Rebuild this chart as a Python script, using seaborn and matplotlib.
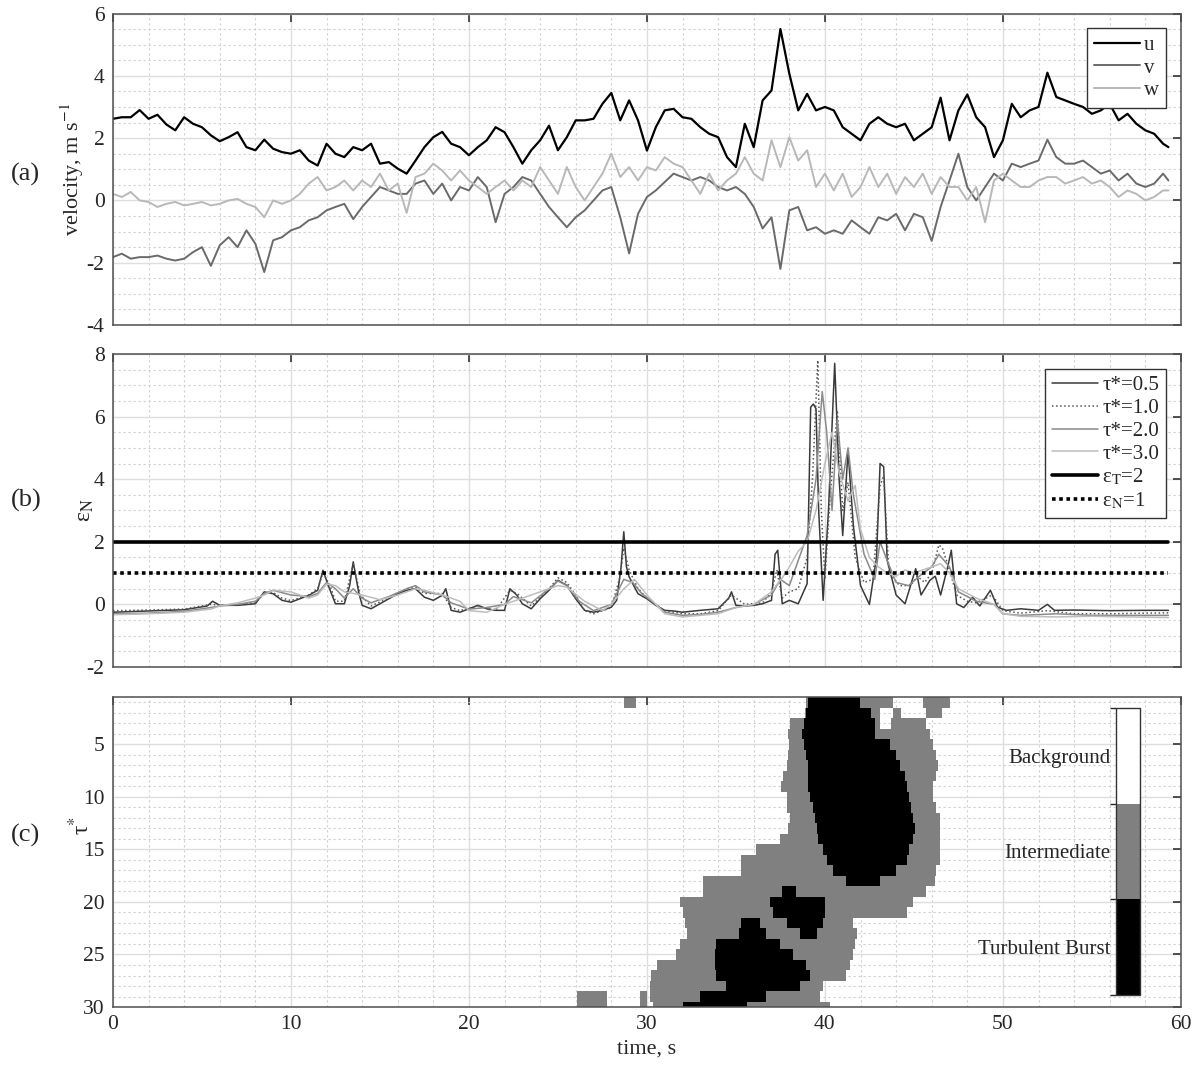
import numpy as np
import matplotlib
matplotlib.use("Agg")
import matplotlib.pyplot as plt
import seaborn as sns
from matplotlib.colors import ListedColormap, BoundaryNorm
from matplotlib.ticker import MultipleLocator

# ---------------- data: panel (a) velocity components ----------------
t_vel = np.append(np.arange(0, 59.01, 0.5), 59.3)
u_vel = [2.62, 2.67, 2.67, 2.90, 2.62, 2.75, 2.44, 2.25, 2.67, 2.46,
         2.35, 2.09, 1.90, 2.03, 2.19, 1.71, 1.61, 1.95, 1.66, 1.55,
         1.50, 1.61, 1.28, 1.12, 1.82, 1.50, 1.39, 1.71, 1.61, 1.82,
         1.18, 1.23, 1.02, 0.86, 1.28, 1.71, 2.03, 2.20, 1.82, 1.71,
         1.45, 1.71, 1.93, 2.35, 2.19, 1.71, 1.18, 1.61, 1.93, 2.40,
         1.61, 2.03, 2.57, 2.57, 2.62, 3.10, 3.45, 2.57, 3.21, 2.57,
         1.60, 2.35, 2.89, 2.94, 2.67, 2.62, 2.35, 2.14, 2.03, 1.39,
         1.07, 2.46, 1.71, 3.21, 3.53, 5.50, 4.07, 2.89, 3.42, 2.89,
         3.00, 2.89, 2.35, 2.14, 1.93, 2.46, 2.67, 2.46, 2.35, 2.46,
         1.93, 2.14, 2.35, 3.30, 1.93, 2.89, 3.40, 2.67, 2.35, 1.39,
         1.93, 3.10, 2.67, 2.89, 3.00, 4.10, 3.32, 3.21, 3.10, 3.00,
         2.78, 2.89, 3.10, 2.57, 2.78, 2.46, 2.25, 2.14, 1.82, 1.71]
v_vel = [-1.82, -1.71, -1.87, -1.82, -1.82, -1.77, -1.87, -1.93, -1.87, -1.66,
         -1.50, -2.10, -1.44, -1.18, -1.50, -0.96, -1.39, -2.30, -1.28, -1.18,
         -0.96, -0.86, -0.64, -0.54, -0.32, -0.21, -0.11, -0.60, -0.21, 0.11,
         0.43, 0.32, 0.21, 0.21, 0.54, 0.64, 0.21, 0.54, 0.00, 0.43,
         0.32, 0.75, 0.43, -0.70, 0.21, 0.43, 0.75, 0.64, 0.21, -0.21,
         -0.54, -0.86, -0.54, -0.32, 0.00, 0.32, 0.43, -0.54, -1.70, -0.43,
         0.11, 0.32, 0.59, 0.86, 0.75, 0.64, 0.75, 0.64, 0.43, 0.32,
         0.43, 0.21, -0.21, -0.90, -0.54, -2.20, -0.32, -0.21, -0.96, -0.86,
         -1.07, -0.96, -1.07, -0.64, -0.86, -1.07, -0.54, -0.64, -0.43, -0.96,
         -0.43, -0.54, -1.30, -0.21, 0.64, 1.50, 0.43, 0.00, 0.43, 0.86,
         0.64, 1.18, 1.07, 1.18, 1.28, 1.95, 1.39, 1.18, 1.18, 1.28,
         1.07, 0.86, 0.96, 0.64, 0.86, 0.54, 0.43, 0.54, 0.86, 0.64]
w_vel = [0.21, 0.11, 0.27, 0.00, -0.05, -0.21, -0.11, -0.05, -0.16, -0.11,
         -0.05, -0.16, -0.11, 0.00, 0.05, -0.11, -0.21, -0.54, 0.00, -0.11,
         0.00, 0.21, 0.54, 0.75, 0.32, 0.43, 0.64, 0.32, 0.64, 0.43,
         0.86, 0.32, 0.54, -0.40, 0.75, 0.86, 1.18, 0.96, 0.64, 0.96,
         0.64, 0.43, 0.21, 0.43, 0.64, 0.32, 0.64, 0.43, 1.07, 0.64,
         0.21, 1.07, 0.43, 0.00, 0.43, 0.86, 1.50, 0.75, 1.07, 0.64,
         1.07, 0.96, 1.39, 1.18, 1.07, 0.64, 0.21, 0.86, 0.32, 0.64,
         0.86, 1.39, 0.86, 0.64, 1.93, 1.07, 2.03, 1.28, 1.61, 0.43,
         0.86, 0.32, 0.86, 0.11, 0.43, 1.07, 0.43, 0.86, 0.21, 0.75,
         0.43, 0.86, 0.21, 0.75, 0.43, 0.43, 0.00, 0.43, -0.70, 0.64,
         0.86, 0.64, 0.43, 0.43, 0.64, 0.75, 0.75, 0.54, 0.64, 0.75,
         0.54, 0.64, 0.43, 0.11, 0.32, 0.21, 0.00, 0.11, 0.32, 0.32]

# ---------------- data: panel (b) normalised dissipation ----------------
eps05_t = [0, 2, 4, 5.3, 5.6, 6, 7, 8, 8.5, 9, 9.5, 10, 10.5, 11, 11.5, 11.8, 12.1, 12.5, 13,
           13.3, 13.5, 13.8, 14, 14.5, 15, 15.5, 16, 16.5, 17, 17.5, 18, 18.5, 18.7, 19, 19.5,
           20, 20.5, 21, 21.5, 22, 22.3, 22.7, 23, 23.5, 24, 24.5, 25, 25.5, 26, 26.5, 27, 27.5,
           28, 28.3, 28.55, 28.7, 28.85, 29, 29.5, 30, 30.5, 31, 31.5, 32, 33, 34, 34.6, 34.75,
           35, 35.5, 36, 36.5, 37, 37.2, 37.35, 37.6, 38, 38.5, 39, 39.2, 39.35, 39.5, 39.65,
           39.9, 40.2, 40.55, 40.8, 41.0, 41.3, 41.6, 42.0, 42.5, 42.9, 43.1, 43.3, 43.5, 44.0,
           44.5, 45.1, 45.4, 45.9, 46.2, 46.5, 46.9, 47.1, 47.4, 47.8, 48.3, 48.7, 49.3, 49.7,
           50.2, 51, 52, 52.5, 52.9, 54, 56, 58, 59.3]
eps05_v = [-0.25, -0.21, -0.17, -0.05, 0.10, -0.03, -0.03, 0.02, 0.40, 0.34, 0.13, 0.07, 0.18, 0.29,
           0.45, 1.09, 0.60, 0.02, 0.02, 0.60, 1.36, 0.40, -0.03, -0.14, 0.02, 0.18, 0.34, 0.45,
           0.50, 0.23, 0.13, 0.29, 0.50, -0.19, -0.25, -0.14, -0.03, -0.14, -0.19, -0.19, 0.50,
           0.29, 0.02, -0.14, 0.18, 0.45, 0.77, 0.61, 0.18, -0.19, -0.25, -0.19, -0.09, 0.13,
           1.20, 2.32, 1.20, 0.88, 0.34, 0.18, -0.03, -0.19, -0.21, -0.25, -0.19, -0.14, 0.20,
           0.40, -0.03, -0.05, -0.03, 0.02, 0.13, 1.60, 1.73, 0.02, 0.13, 0.02, 0.66, 6.30, 6.40,
           6.25, 3.00, 0.13, 3.00, 7.70, 4.00, 2.20, 4.90, 2.50, 0.60, 0.00, 1.50, 4.50, 4.40,
           1.40, 0.30, 0.02, 1.14, 0.30, 0.77, 0.90, 0.30, 1.20, 1.73, 0.02, -0.10, 0.23, -0.05,
           0.45, -0.09, -0.19, -0.14, -0.19, 0.00, -0.19, -0.18, -0.20, -0.19, -0.19]

eps10_t = [0, 2, 4, 5.5, 6, 7, 8, 8.5, 9, 9.5, 10, 11, 11.5, 11.8, 12.2, 12.5, 13, 13.5, 13.9,
           14.5, 15.5, 16.5, 17, 17.5, 18.5, 19, 19.5, 20.5, 21.5, 22.3, 22.7, 23.5, 24.5, 25,
           25.5, 26, 26.5, 27, 28, 28.5, 28.7, 29, 29.5, 30, 31, 32, 33, 34, 34.75, 35.5, 36.5,
           37.0, 37.3, 37.6, 38, 38.5, 39, 39.3, 39.6, 39.8, 40.0, 40.3, 40.7, 41.0, 41.3, 41.7,
           42.2, 42.7, 43.1, 43.3, 43.6, 44.2, 44.8, 45.2, 45.6, 46.0, 46.4, 46.6, 47.0, 47.4,
           48, 48.5, 49.4, 50, 51, 52.5, 54, 56, 58, 59.3]
eps10_v = [-0.20, -0.18, -0.15, 0.00, -0.02, 0.00, 0.05, 0.35, 0.38, 0.20, 0.12, 0.30, 0.50, 1.00,
           0.60, 0.10, 0.10, 1.30, 0.30, -0.05, 0.20, 0.50, 0.55, 0.35, 0.35, -0.10, -0.20,
           -0.05, -0.20, 0.45, 0.35, -0.05, 0.50, 0.85, 0.70, 0.30, -0.20, -0.30, -0.10, 0.90,
           1.80, 1.10, 0.50, 0.20, -0.20, -0.30, -0.30, -0.20, 0.30, 0.00, 0.05, 0.40, 1.10,
           0.20, 0.40, 0.50, 1.50, 4.00, 7.80, 3.00, 0.80, 3.50, 6.20, 3.00, 3.90, 1.50, 0.70,
           0.80, 3.80, 4.10, 1.00, 0.60, 0.60, 0.90, 0.70, 1.00, 1.90, 1.80, 1.10, 0.30, 0.10,
           0.05, 0.30, -0.20, -0.28, -0.20, -0.30, -0.30, -0.28, -0.27]

eps20_t = [0, 2, 4, 5.5, 6, 7, 8, 8.5, 9, 10, 11, 11.5, 12, 12.5, 13, 13.5, 14, 14.5, 15.5,
           16.5, 17, 17.5, 18.5, 19, 20, 21, 22, 22.5, 23.5, 24.5, 25, 25.5, 26.2, 27, 28,
           28.7, 29.2, 29.7, 30.5, 31, 32, 33, 34, 35, 36, 37, 37.5, 38, 38.5, 39, 39.5, 39.85,
           40.1, 40.4, 40.7, 41.0, 41.3, 41.6, 42.2, 42.8, 43.1, 43.5, 44, 44.7, 45.3, 46.0,
           46.4, 47.0, 47.5, 48.5, 49.5, 50, 51, 53, 55, 57, 59.3]
eps20_v = [-0.30, -0.28, -0.22, -0.10, -0.05, 0.00, 0.10, 0.35, 0.45, 0.30, 0.25, 0.35, 0.70,
           0.50, 0.20, 0.50, 0.20, 0.05, 0.25, 0.50, 0.60, 0.40, 0.30, 0.05, -0.15, -0.10, 0.00,
           0.25, 0.05, 0.50, 0.75, 0.60, 0.10, -0.20, 0.00, 0.80, 0.70, 0.35, 0.00, -0.25, -0.35,
           -0.32, -0.25, -0.10, 0.00, 0.30, 0.80, 0.60, 1.40, 2.20, 4.00, 6.80, 5.50, 3.00, 5.90,
           4.00, 5.00, 3.50, 1.60, 0.80, 2.00, 1.40, 0.70, 0.60, 0.90, 1.20, 1.60, 1.20, 0.40,
           0.10, 0.00, -0.30, -0.35, -0.30, -0.35, -0.35, -0.35]

eps30_t = [0, 2, 4, 5.5, 6, 7, 8, 8.5, 9, 10, 11, 11.5, 12, 12.5, 13, 14, 15, 16, 17, 17.5,
           18.5, 19.5, 20, 21, 22, 23, 24, 25, 25.5, 26.5, 27.5, 28, 28.7, 29.3, 30, 31, 32, 33,
           34, 35, 36, 37, 37.8, 38.5, 39, 39.5, 40, 40.4, 40.8, 41.3, 41.7, 42, 42.5, 43, 43.5,
           44, 44.5, 45, 46, 46.5, 47, 47.5, 48.5, 49.5, 50, 51, 53, 55, 57, 59.3]
eps30_v = [-0.33, -0.30, -0.25, -0.15, -0.05, 0.05, 0.20, 0.30, 0.45, 0.40, 0.20, 0.30, 0.65,
           0.60, 0.40, 0.30, 0.15, 0.30, 0.50, 0.45, 0.30, 0.10, -0.20, -0.25, 0.00, 0.20, 0.40,
           0.60, 0.55, 0.10, -0.20, 0.00, 0.50, 0.80, 0.30, -0.30, -0.40, -0.35, -0.30, -0.10,
           0.00, 0.40, 1.00, 1.70, 2.00, 3.00, 4.50, 5.50, 4.20, 3.30, 3.80, 2.40, 1.50, 1.20,
           1.00, 0.90, 1.10, 1.00, 1.20, 1.30, 1.00, 0.50, 0.20, 0.00, -0.30, -0.38, -0.40,
           -0.38, -0.40, -0.42]

eps_T = 2.0
eps_N = 1.0
t_end = 59.3

# ---------------- data: panel (c) regime map (tau* rows 1..30) ----------------
tau_rows = list(range(1, 31))
inter_spans = [
    [(28.7, 29.4), (38.97, 43.84), (45.5, 47.0)],
    [(38.9, 43.1), (43.8, 44.3), (45.7, 46.6)],
    [(38.03, 43.1), (43.7, 45.7)],
    [(37.9, 45.9)],
    [(38.0, 46.08)],
    [(37.94, 46.27)],
    [(37.84, 46.37)],
    [(37.66, 46.27)],
    [(37.56, 46.08)],
    [(37.84, 46.08)],
    [(37.84, 46.27)],
    [(38.03, 46.46)],
    [(37.94, 46.46)],
    [(37.47, 46.46)],
    [(36.16, 46.46)],
    [(35.32, 46.46)],
    [(35.32, 46.27)],
    [(33.16, 46.18)],
    [(33.16, 45.71)],
    [(31.85, 44.96)],
    [(32.04, 44.6)],
    [(32.13, 41.6)],
    [(32.23, 41.78)],
    [(31.85, 41.68)],
    [(31.66, 41.6)],
    [(30.54, 41.4)],
    [(30.26, 41.2)],
    [(30.17, 39.9)],
    [(26.05, 27.73), (29.6, 29.98), (30.17, 39.72)],
    [(26.05, 27.73), (29.6, 29.98), (30.35, 40.28)],
]
burst_spans = [
    [(39.06, 41.96)],
    [(38.97, 42.62)],
    [(38.78, 42.8)],
    [(38.69, 42.8)],
    [(38.87, 43.65)],
    [(38.97, 44.02)],
    [(39.06, 44.21)],
    [(39.06, 44.49)],
    [(39.06, 44.59)],
    [(39.15, 44.77)],
    [(39.34, 44.87)],
    [(39.44, 44.96)],
    [(39.53, 45.05)],
    [(39.62, 44.96)],
    [(39.9, 44.77)],
    [(40.09, 44.59)],
    [(40.47, 44.02)],
    [(41.2, 43.1)],
    [(37.6, 38.4)],
    [(36.91, 40.0)],
    [(37.1, 40.0)],
    [(35.32, 36.35), (37.84, 39.9)],
    [(35.22, 36.72), (38.59, 39.53)],
    [(33.91, 37.47)],
    [(33.82, 38.22)],
    [(33.82, 38.97)],
    [(33.91, 39.15)],
    [(34.47, 38.59)],
    [(32.98, 36.72)],
    [(32.04, 35.6)],
]
regime_names = ["Background", "Intermediate", "Turbulent Burst"]

# ---------------- style ----------------
sns.set_theme(style="white")
plt.rcParams['font.family'] = ['Liberation Serif', 'DejaVu Serif']
plt.rcParams['mathtext.fontset'] = 'stix'
plt.rcParams['axes.unicode_minus'] = False
TXT = '#262626'

fig = plt.figure(figsize=(11.99, 10.72), dpi=100)
L, W = 0.0942, 0.8907
ax_a = fig.add_axes([L, 0.6968, W, 0.2906])
ax_b = fig.add_axes([L, 0.3778, W, 0.2920])
ax_c = fig.add_axes([L, 0.0606, W, 0.2892])


def style(ax, ymin_step):
    ax.set_axisbelow(True)
    ax.xaxis.set_major_locator(MultipleLocator(10))
    ax.xaxis.set_minor_locator(MultipleLocator(2))
    ax.yaxis.set_minor_locator(MultipleLocator(ymin_step))
    ax.grid(which='major', color='#dedede', lw=1.0, ls='-')
    ax.grid(which='minor', color='#d0d0d0', lw=0.8, ls=(0, (2, 2.5)))
    ax.tick_params(which='major', direction='in', top=True, right=True, length=6,
                   width=1.2, color='#333333', labelsize=15.5, labelcolor=TXT, pad=6)
    ax.tick_params(which='minor', length=0)
    for s in ax.spines.values():
        s.set_color('#505050')
        s.set_linewidth(1.1)
    ax.set_xlim(0, 60)


def legend(ax, **kw):
    leg = ax.legend(loc='upper right', fontsize=15, frameon=True, fancybox=False,
                    framealpha=1, edgecolor='#333333', borderaxespad=0.7,
                    handlelength=2.2, handletextpad=0.2, labelspacing=0.15,
                    borderpad=0.35, **kw)
    leg.get_frame().set_linewidth(1.0)
    for t in leg.get_texts():
        t.set_color(TXT)
    return leg


# ---- panel (a)
sns.lineplot(x=t_vel, y=u_vel, ax=ax_a, color='black', lw=1.6, label='u',
             estimator=None, sort=False)
sns.lineplot(x=t_vel, y=v_vel, ax=ax_a, color='#6a6a6a', lw=1.4, label='v',
             estimator=None, sort=False)
sns.lineplot(x=t_vel, y=w_vel, ax=ax_a, color='#b8b8b8', lw=1.4, label='w',
             estimator=None, sort=False)
style(ax_a, 0.5)
ax_a.set_ylim(-4, 6)
ax_a.set_yticks([-4, -2, 0, 2, 4, 6])
ax_a.set_xticklabels([])
ax_a.set_xlabel('')
ax_a.set_ylabel('velocity, m s$^{-1}$', fontsize=16, color=TXT)
ax_a.yaxis.set_label_coords(-0.025, 0.5)
legend(ax_a)

# ---- panel (b)
sns.lineplot(x=eps05_t, y=eps05_v, ax=ax_b, color='#3a3a3a', lw=1.1, label='τ*=0.5',
             estimator=None, sort=False)
sns.lineplot(x=eps10_t, y=eps10_v, ax=ax_b, color='#555555', lw=1.1, ls=':',
             label='τ*=1.0', estimator=None, sort=False)
sns.lineplot(x=eps20_t, y=eps20_v, ax=ax_b, color='#8a8a8a', lw=1.1, label='τ*=2.0',
             estimator=None, sort=False)
sns.lineplot(x=eps30_t, y=eps30_v, ax=ax_b, color='#bdbdbd', lw=1.1, label='τ*=3.0',
             estimator=None, sort=False)
sns.lineplot(x=[0, t_end], y=[eps_T, eps_T], ax=ax_b, color='black', lw=2.6,
             label='ε$_{\\rm T}$=2', estimator=None, sort=False)
sns.lineplot(x=[0, t_end], y=[eps_N, eps_N], ax=ax_b, color='black', lw=2.6,
             ls=(0, (1, 1)), label='ε$_{\\rm N}$=1', estimator=None, sort=False)
style(ax_b, 0.5)
ax_b.set_ylim(-2, 8)
ax_b.set_yticks([-2, 0, 2, 4, 6, 8])
ax_b.set_xticklabels([])
ax_b.set_xlabel('')
ax_b.set_ylabel('ε$_{\\rm N}$', fontsize=17, color=TXT)
ax_b.yaxis.set_label_coords(-0.016, 0.5)
legend(ax_b)

# ---- panel (c)
dt = 0.05
t_edges = np.arange(0, 60 + dt / 2, dt)
t_cent = 0.5 * (t_edges[:-1] + t_edges[1:])
tau_edges = np.arange(0.5, 31.0, 1.0)
state = np.zeros((len(tau_rows), len(t_cent)))
for i in range(len(tau_rows)):
    for a, b in inter_spans[i]:
        state[i, (t_cent >= a) & (t_cent < b)] = 1
    for a, b in burst_spans[i]:
        state[i, (t_cent >= a) & (t_cent < b)] = 2
state_m = np.ma.masked_where(state == 0, state)
cmap = ListedColormap(['white', '#808080', 'black'])
norm = BoundaryNorm([-0.5, 0.5, 1.5, 2.5], cmap.N)
mesh = ax_c.pcolormesh(t_edges, tau_edges, state_m, cmap=cmap, norm=norm,
                       shading='flat', zorder=1, rasterized=True)
style(ax_c, 1)
ax_c.set_ylim(30, 0.5)
ax_c.set_yticks([5, 10, 15, 20, 25, 30])
ax_c.set_xticks([0, 10, 20, 30, 40, 50, 60])
ax_c.set_xlabel('time, s', fontsize=16, color=TXT, labelpad=4)
ax_c.set_ylabel('τ$^{*}$', fontsize=17, color=TXT)
ax_c.yaxis.set_label_coords(-0.018, 0.585)

cax = ax_c.inset_axes([0.939, 0.039, 0.0225, 0.926])
cb = fig.colorbar(mesh, cax=cax, ticks=[0, 1, 2])
cax.invert_yaxis()
cb.outline.set_edgecolor('#333333')
cb.outline.set_linewidth(1.0)
cax.yaxis.set_ticks_position('left')
cax.yaxis.set_label_position('left')
cb.set_ticklabels(regime_names)
cax.tick_params(direction='in', length=4, color='#333333', labelsize=15,
                labelcolor=TXT, pad=4)

# panel letters
for y, s in [(0.8368, '(a)'), (0.5336, '(b)'), (0.2211, '(c)')]:
    fig.text(0.0215, y, s, fontsize=19, color=TXT, ha='center', va='center')

fig.savefig('out.png', dpi=100, facecolor='white')
